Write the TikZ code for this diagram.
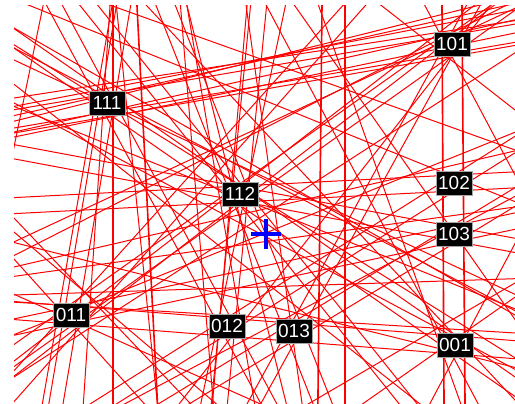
\documentclass[tikz,border=0pt]{standalone}
\usepackage{fontspec}
\setsansfont{Liberation Sans}
\usetikzlibrary{calc}
\definecolor{kred}{RGB}{255,0,0}

\begin{document}
\begin{tikzpicture}[
  x=1pt, y=1pt,
  kline/.style={draw=kred, line width=1pt},
  kvert/.style={kline, line width=1.6pt},
  zone/.style={fill=black, draw=black!35, text=white, inner sep=1pt,
    minimum width=36pt, minimum height=24pt,
    font=\sffamily\fontsize{19}{19}\selectfont},
  centremark/.style={blue, line width=3.2pt},
]
\useasboundingbox (0,0) rectangle (515,404);

% zone axes
\coordinate (z101) at (452,360);
\coordinate (z111) at (107,301);
\coordinate (z112) at (240,210);
\coordinate (z102) at (454,221);
\coordinate (z103) at (454,170);
\coordinate (z011) at (71,89);
\coordinate (z012) at (227,78);
\coordinate (z013) at (294,73);
\coordinate (z001) at (455,59);
\coordinate (u1) at (460,380);
\coordinate (u2) at (103,381);
\coordinate (cen) at (266,170);

\begin{scope}
  \clip (14,0) rectangle (515,398);
  % bands between zone axes
  \foreach \a/\b/\w in {z011/z001/9, z111/z001/8, z101/z011/9,
      z111/z011/7, z111/z101/9, z112/z102/8, z112/z103/7, z112/z012/8,
      z112/z013/9, z103/z013/8, z102/z012/7, z101/z013/6, z111/z012/7,
      z103/z011/8, u1/z112/6, u2/z112/7, u1/z111/8} {
    \coordinate (p1) at ($(\a)!\w pt!90:(\b)$);
    \coordinate (p2) at ($(\b)!\w pt!-90:(\a)$);
    \coordinate (q1) at ($(\a)!\w pt!-90:(\b)$);
    \coordinate (q2) at ($(\b)!\w pt!90:(\a)$);
    \draw[kline] ($(p1)!-6!(p2)$) -- ($(p2)!-6!(p1)$);
    \draw[kline] ($(q1)!-6!(q2)$) -- ($(q2)!-6!(q1)$);
  }
  % single lines (pixel positions, read from the top)
  \foreach \xa/\ya/\xb/\yb in {43/6/14/147, 110/6/97/200,
      187/6/220/200, 247/6/233/167, 14/48/260/177, 14/60/200/147,
      14/28/110/83, 14/98/260/60, 14/133/260/90, 147/6/260/127,
      255/60/515/10, 255/133/432/43, 255/87/515/33,
      365/6/255/130, 295/6/422/187, 255/57/515/150, 382/6/515/110,
      14/218/187/400, 14/232/180/373, 14/267/260/210, 14/295/260/287,
      14/377/133/300, 77/206/43/400, 137/206/157/400,
      197/206/213/400, 255/243/515/207, 255/317/515/333,
      288/300/415/400, 515/283/315/400, 388/200/438/340} {
    \coordinate (s1) at (\xa,{404-\ya});
    \coordinate (s2) at (\xb,{404-\yb});
    \draw[kline] ($(s1)!-5!(s2)$) -- ($(s2)!-5!(s1)$);
  }
  % near-vertical lines
  \foreach \xa/\ya/\xb/\yb in {442/6/444/400, 462/6/465/400, 137/6/147/200,
      322/6/320/200, 113/206/113/400, 345/206/345/400} {
    \coordinate (s1) at (\xa,{404-\ya});
    \coordinate (s2) at (\xb,{404-\yb});
    \draw[kvert] ($(s1)!-5!(s2)$) -- ($(s2)!-5!(s1)$);
  }
  % fans round the zone axes
  \foreach \p/\dx/\dy/\ang in {z001/-4/3/35, z001/5/-2/62, z001/-6/-4/118,
      z001/3/6/152, z001/-2/-7/166, z011/4/5/22, z011/-5/2/48, z011/3/-6/-24,
      z011/-3/-4/-48, z112/6/3/78, z112/-5/-4/104, z112/3/-5/158,
      z101/-5/4/205, z101/6/-3/232, z101/-4/-5/-62, z111/5/-3/-32,
      z111/-4/4/14, z103/-6/2/28, z102/5/4/-22, z013/-3/6/98}
    \draw[kline] ($(\p)+(\dx,\dy)+(\ang:-700)$) -- ($(\p)+(\dx,\dy)+(\ang:700)$);
\end{scope}

% labels
\node[zone] (l101) at (z101) {101};
\node[zone] (l111) at (z111) {111};
\node[zone] (l112) at (z112) {112};
\node[zone] (l102) at (z102) {102};
\node[zone] (l103) at (z103) {103};
\node[zone] (l011) at (z011) {011};
\node[zone] (l012) at (z012) {012};
\node[zone] (l013) at (z013) {013};
\node[zone] (l001) at (z001) {001};

\draw[centremark] ($(cen)+(-15,0)$) -- ($(cen)+(15,0)$)
                  ($(cen)+(0,-15)$) -- ($(cen)+(0,15)$);
\end{tikzpicture}
\end{document}
